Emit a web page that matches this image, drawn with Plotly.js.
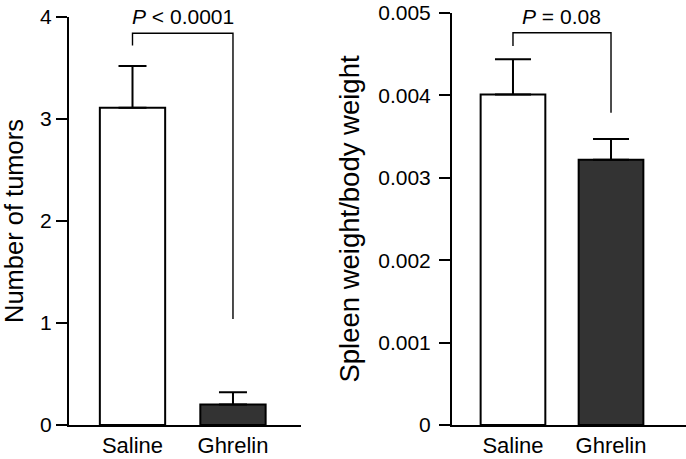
<!DOCTYPE html>
<html>
<head>
<meta charset="utf-8">
<script src="https://cdn.plot.ly/plotly-3.0.1.min.js"></script>
<style>html,body{margin:0;padding:0;background:#fff}#chart{width:686px;height:459px}</style>
</head>
<body>
<div id="chart"></div>
<script>
// ---- data ----
var categories = ['Saline', 'Ghrelin'];
var tumorMeans = [3.11, 0.20];
var tumorErrors = [0.41, 0.12];
var spleenMeans = [0.00401, 0.00322];
var spleenErrors = [0.00043, 0.00025];
var barColors = ['#ffffff', '#333333'];

var tumorTickVals = [0, 1, 2, 3, 4];
var tumorTickText = ['0', '1', '2', '3', '4'];
var spleenTickVals = [0, 0.001, 0.002, 0.003, 0.004, 0.005];
var spleenTickText = ['0', '0.001', '0.002', '0.003', '0.004', '0.005'];

var tumorBracketX = ['Saline', 'Saline', 'Ghrelin', 'Ghrelin'];
var tumorBracketY = [3.72, 3.84, 3.84, 1.04];
var spleenBracketX = ['Saline', 'Saline', 'Ghrelin', 'Ghrelin'];
var spleenBracketY = [0.0046, 0.00476, 0.00476, 0.00379];

var tumorPText = '<i>P</i> &lt; 0.0001';
var spleenPText = '<i>P</i> = 0.08';
var tumorTitle = 'Number of tumors';
var spleenTitle = 'Spleen weight/body weight';

// ---- chart ----
var FONT = 'Liberation Sans, Arial, Helvetica, sans-serif';
var W = 686, H = 459;

function zeros(n) { var a = []; for (var i = 0; i < n; i++) a.push(0); return a; }

var traces = [
  {
    type: 'bar', x: categories, y: tumorMeans, xaxis: 'x', yaxis: 'y',
    width: 0.65,
    marker: { color: barColors, line: { color: '#000', width: 2 } },
    error_y: { type: 'data', array: tumorErrors, arrayminus: zeros(tumorErrors.length), symmetric: false,
               color: '#000', thickness: 2, width: 14 },
    showlegend: false, hoverinfo: 'skip'
  },
  {
    type: 'scatter', mode: 'lines', x: tumorBracketX, y: tumorBracketY, xaxis: 'x', yaxis: 'y',
    line: { color: '#000', width: 1.4 }, showlegend: false, hoverinfo: 'skip'
  },
  {
    type: 'bar', x: categories, y: spleenMeans, xaxis: 'x2', yaxis: 'y2',
    width: 0.66,
    marker: { color: barColors, line: { color: '#000', width: 2 } },
    error_y: { type: 'data', array: spleenErrors, arrayminus: zeros(spleenErrors.length), symmetric: false,
               color: '#000', thickness: 2, width: 18 },
    showlegend: false, hoverinfo: 'skip'
  },
  {
    type: 'scatter', mode: 'lines', x: spleenBracketX, y: spleenBracketY, xaxis: 'x2', yaxis: 'y2',
    line: { color: '#000', width: 1.4 }, showlegend: false, hoverinfo: 'skip'
  }
];

function px2x(p) { return p / W; }
function py2y(p) { return 1 - p / H; }

var yAxisCommon = {
  showgrid: false, zeroline: false, showline: true, linecolor: '#000', linewidth: 2,
  ticks: 'outside', ticklen: 11, tickwidth: 2, tickcolor: '#000',
  tickfont: { family: FONT, size: 21, color: '#000' }
};
var xAxisCommon = {
  type: 'category', categoryorder: 'array', categoryarray: categories,
  showgrid: false, zeroline: false, showline: true, linecolor: '#000', linewidth: 2,
  ticks: '', tickfont: { family: FONT, size: 22, color: '#000' },
  ticklabelstandoff: 0
};

var layout = {
  width: W, height: H,
  margin: { l: 0, r: 0, t: 0, b: 0, pad: 0 },
  paper_bgcolor: '#fff', plot_bgcolor: 'rgba(0,0,0,0)',
  font: { family: FONT, color: '#000' },
  bargap: 0,
  xaxis: Object.assign({}, xAxisCommon, { domain: [px2x(69), px2x(301)], range: [-0.632, 1.677], anchor: 'y' }),
  yaxis: Object.assign({}, yAxisCommon, {
    domain: [py2y(425), py2y(17)], range: [0, 4], anchor: 'x', ticklabelstandoff: 0,
    tickmode: 'array', tickvals: tumorTickVals, ticktext: tumorTickText,
    title: { text: tumorTitle, font: { family: FONT, size: 25.5, color: '#000' }, standoff: 17 }
  }),
  xaxis2: Object.assign({}, xAxisCommon, { domain: [px2x(452), 1], range: [-0.622, 1.765], anchor: 'y2' }),
  yaxis2: Object.assign({}, yAxisCommon, {
    domain: [py2y(425), py2y(13)], range: [0, 0.005], anchor: 'x2', ticklabelstandoff: 4,
    tickmode: 'array', tickvals: spleenTickVals, ticktext: spleenTickText,
    title: { text: spleenTitle, font: { family: FONT, size: 27.5, color: '#000' }, standoff: 11 }
  }),
  annotations: [
    { xref: 'x', yref: 'paper', x: 0.5, y: py2y(17), text: tumorPText, showarrow: false,
      xanchor: 'center', yanchor: 'middle', font: { family: FONT, size: 21, color: '#000' } },
    { xref: 'x2', yref: 'paper', x: 0.5, y: py2y(17), text: spleenPText, showarrow: false,
      xanchor: 'center', yanchor: 'middle', font: { family: FONT, size: 21, color: '#000' } }
  ]
};

Plotly.newPlot('chart', traces, layout, { staticPlot: true, displayModeBar: false });
</script>
</body>
</html>
